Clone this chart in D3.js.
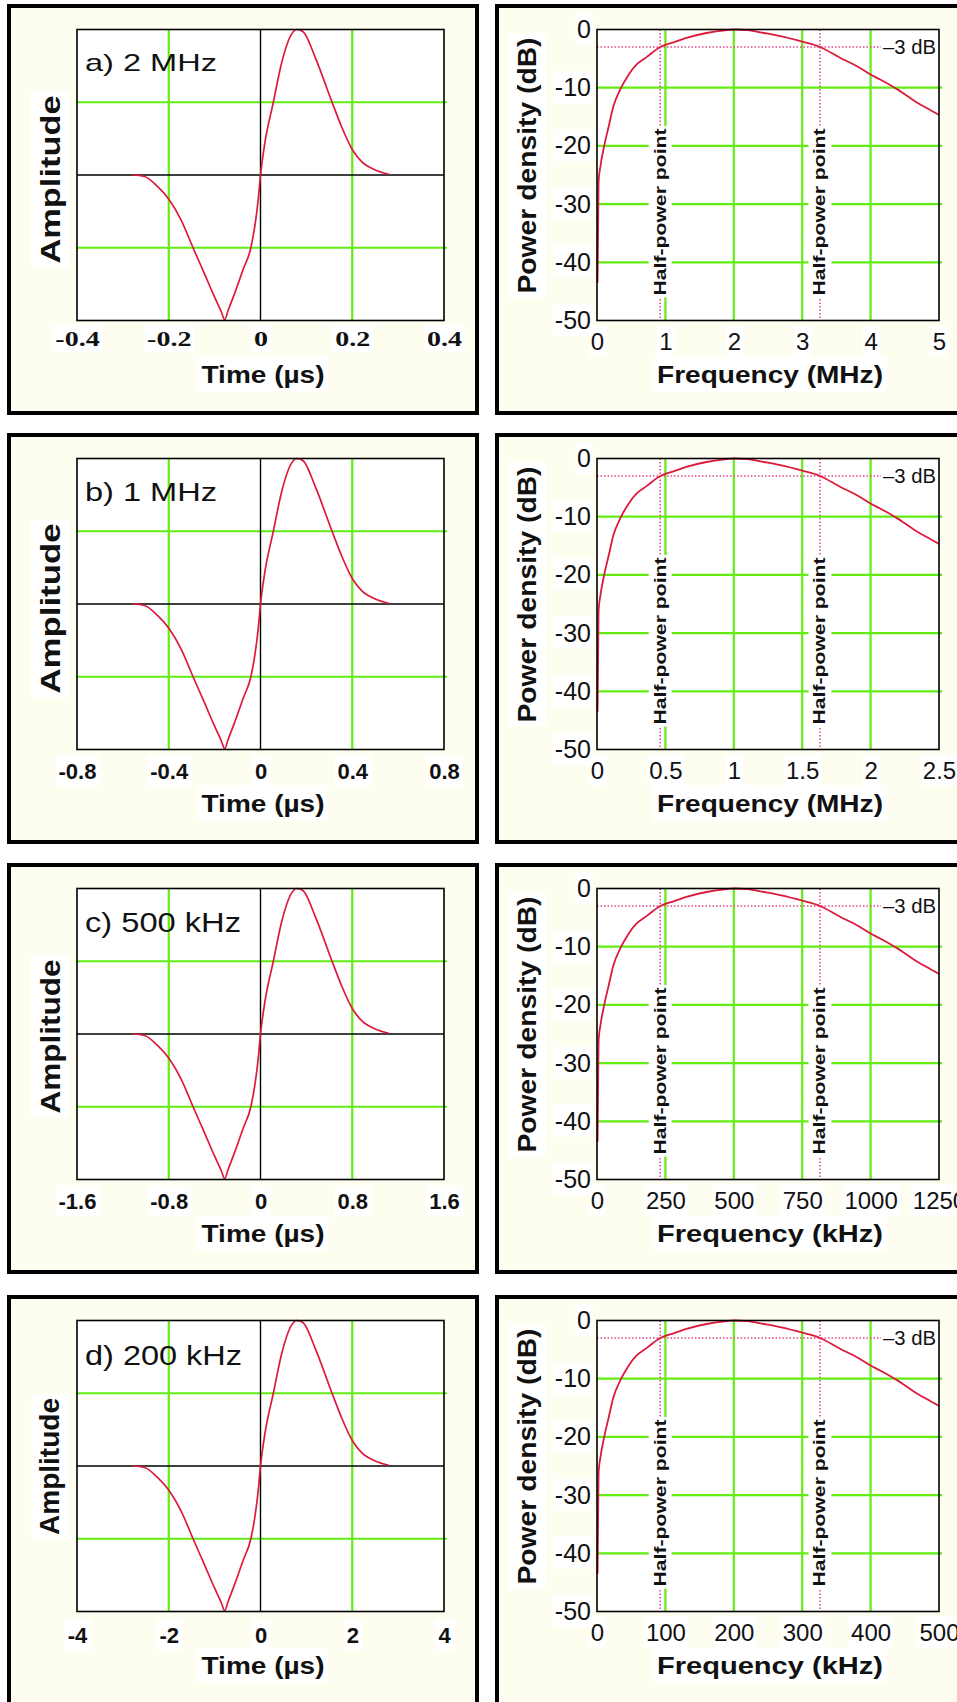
<!DOCTYPE html>
<html>
<head>
<meta charset="utf-8">
<script src="https://cdn.jsdelivr.net/npm/d3@7"></script>
<style>
  html, body { margin: 0; padding: 0; background: #ffffff; }
  svg { display: block; }
</style>
</head>
<body>
<svg id="fig" width="957" height="1702"></svg>
<script>
// ---------------- data ----------------
const panelTitles = ["a) 2 MHz", "b) 1 MHz", "c) 500 kHz", "d) 200 kHz"];
const centerFreq = [2, 1, 500, 200];            // in the unit of each frequency axis
const freqUnit = ["MHz", "MHz", "kHz", "kHz"];

// Transmitted pulse: time in periods of the centre frequency, normalised amplitude
const pulseCycles = [-0.558, -0.506, -0.448, -0.398, -0.346, -0.294, -0.244, -0.200, -0.171, -0.156,
                     -0.142, -0.112, -0.076, -0.042, -0.025, -0.010, 0, 0.019, 0.056, 0.092,
                     0.136, 0.158, 0.186, 0.238, 0.312, 0.354, 0.402, 0.442, 0.500, 0.560];
const pulseAmp    = [0, -0.01, -0.08, -0.17, -0.31, -0.50, -0.68, -0.84, -0.94, -0.995,
                     -0.935, -0.81, -0.65, -0.50, -0.355, -0.17, 0, 0.22, 0.50, 0.77,
                     0.97, 1.00, 0.985, 0.81, 0.50, 0.33, 0.17, 0.09, 0.035, 0.005];

// Power spectrum: frequency relative to the centre frequency, power density in dB
const specRatio = [0.004, 0.008, 0.012, 0.025, 0.049, 0.085, 0.12, 0.17, 0.23, 0.29,
                   0.365, 0.462, 0.56, 0.66, 0.80, 0.95, 1.00, 1.10, 1.22, 1.34,
                   1.50, 1.63, 1.78, 1.90, 1.99, 2.07, 2.19, 2.31, 2.41, 2.50];
const specDb    = [-43.5, -34, -26, -23.5, -20.4, -16.7, -13.2, -10.3, -7.8, -6.0,
                   -4.7, -3.0, -2.2, -1.4, -0.6, -0.1, 0, -0.1, -0.6, -1.15,
                   -2.1, -3.0, -4.9, -6.3, -7.6, -8.6, -10.2, -12.1, -13.5, -14.7];

const halfPowerRatio = [0.462, 1.63];
const halfPowerDb = -3;

const timeTicks = [[-0.4, -0.2, 0, 0.2, 0.4], [-0.8, -0.4, 0, 0.4, 0.8],
                   [-1.6, -0.8, 0, 0.8, 1.6], [-4, -2, 0, 2, 4]];
const timeTickLabels = [["-0.4", "-0.2", "0", "0.2", "0.4"], ["-0.8", "-0.4", "0", "0.4", "0.8"],
                        ["-1.6", "-0.8", "0", "0.8", "1.6"], ["-4", "-2", "0", "2", "4"]];
const freqTicks = [[0, 1, 2, 3, 4, 5], [0, 0.5, 1, 1.5, 2, 2.5],
                   [0, 250, 500, 750, 1000, 1250], [0, 100, 200, 300, 400, 500]];
const freqTickLabels = [["0", "1", "2", "3", "4", "5"], ["0", "0.5", "1", "1.5", "2", "2.5"],
                        ["0", "250", "500", "750", "1000", "1250"], ["0", "100", "200", "300", "400", "500"]];
const dbTicks = [0, -10, -20, -30, -40, -50];
const dbTickLabels = ["0", "-10", "-20", "-30", "-40", "-50"];
const ampGrid = [-0.5, 0.5];

// ---------------- layout & style ----------------
const rowTop = [4, 433, 863, 1295];
const frame = { w: 468, h: 407, stroke: 4, leftX: 9, rightX: 497 };
const plotOffY = 25.5, plotH = 291;
const leftPlot = [77, 444], rightPlot = [597, 939];
const COL = { cream: "#fefef0", green: "#62ec12", red: "#dc1a3c", pink: "#e2468e", black: "#000000" };
const SANS = "'Liberation Sans', Arial, Helvetica, sans-serif";
const SERIF = "'Liberation Serif', 'Times New Roman', serif";

const titleStyle = { size: [24, 26, 27, 28], len: [132, 132, 156, 157], base: [41, 42, 43, 44] };
const ampStyle = { size: [28, 28, 28, 27], len: [168, 170, 154, 137], cy: [150, 150, 148, 146] };
const tickBase = [25, 29, 29, 31];

const svg = d3.select("#fig");

function fit(sel, len) {
  sel.attr("textLength", len).attr("lengthAdjust", "spacingAndGlyphs");
}
// white box behind a text element (follows its transform)
function backdrop(node, pad) {
  const b = node.getBBox();
  const r = d3.select(node.parentNode).insert("rect", () => node)
    .attr("x", b.x - pad).attr("y", b.y - pad)
    .attr("width", b.width + 2 * pad).attr("height", b.height + 2 * pad)
    .attr("fill", "#ffffff");
  const t = node.getAttribute("transform");
  if (t) r.attr("transform", t);
}

const pulsePts = pulseCycles.map((c, k) => ({ c, a: pulseAmp[k] }));
const specPts = specRatio.map((r, k) => ({ r, db: specDb[k] }));

rowTop.forEach((top, i) => {
  const pt = top + plotOffY, pb = pt + plotH;
  const f0 = centerFreq[i];
  const f0MHz = freqUnit[i] === "kHz" ? f0 / 1000 : f0;

  // ---------- left: pulse in time ----------
  const gL = svg.append("g");
  gL.append("rect").attr("x", frame.leftX).attr("y", top + frame.stroke / 2)
    .attr("width", frame.w).attr("height", frame.h)
    .attr("fill", COL.cream).attr("stroke", COL.black).attr("stroke-width", frame.stroke);

  const tt = timeTicks[i];
  const x = d3.scaleLinear().domain([tt[0], tt[tt.length - 1]]).range(leftPlot);
  const y = d3.scaleLinear().domain([-1, 1]).range([pb, pt]);

  gL.append("rect").attr("x", leftPlot[0]).attr("y", pt)
    .attr("width", leftPlot[1] - leftPlot[0]).attr("height", plotH).attr("fill", "#ffffff");

  gL.selectAll(".vg").data(tt.filter((d, k) => k > 0 && k < tt.length - 1 && d !== 0)).join("line")
    .attr("x1", d => x(d)).attr("x2", d => x(d)).attr("y1", pt).attr("y2", pb)
    .attr("stroke", COL.green).attr("stroke-width", 2.2);
  gL.selectAll(".hg").data(ampGrid).join("line")
    .attr("x1", leftPlot[0]).attr("x2", leftPlot[1] + 3).attr("y1", d => y(d)).attr("y2", d => y(d))
    .attr("stroke", COL.green).attr("stroke-width", 2.2);
  gL.append("line").attr("x1", x(0)).attr("x2", x(0)).attr("y1", pt).attr("y2", pb)
    .attr("stroke", COL.black).attr("stroke-width", 1.4);
  gL.append("line").attr("x1", leftPlot[0]).attr("x2", leftPlot[1]).attr("y1", y(0)).attr("y2", y(0))
    .attr("stroke", COL.black).attr("stroke-width", 1.4);

  const pulseLine = d3.line().x(d => x(d.c / f0MHz)).y(d => y(d.a)).curve(d3.curveMonotoneX);
  gL.append("path").attr("d", pulseLine(pulsePts))
    .attr("fill", "none").attr("stroke", COL.red).attr("stroke-width", 1.7);

  gL.append("rect").attr("x", leftPlot[0]).attr("y", pt)
    .attr("width", leftPlot[1] - leftPlot[0]).attr("height", plotH)
    .attr("fill", "none").attr("stroke", COL.black).attr("stroke-width", 1.6);

  const ttl = gL.append("text").attr("x", 85).attr("y", pt + titleStyle.base[i])
    .attr("font-family", SANS).attr("font-size", titleStyle.size[i]).attr("fill", "#111")
    .text(panelTitles[i]);
  fit(ttl, titleStyle.len[i]);

  const axL = gL.append("g").attr("transform", `translate(0,${pb})`)
    .call(d3.axisBottom(x).tickValues(tt).tickSize(0).tickFormat((d, k) => timeTickLabels[i][k]));
  axL.select(".domain").remove();
  axL.selectAll("text")
    .attr("y", tickBase[i]).attr("dy", null)
    .attr("fill", "#111")
    .attr("font-weight", "bold")
    .attr("font-family", i === 0 ? SERIF : SANS)
    .attr("font-size", i === 0 ? 20 : 22)
    .each(function () {
      if (i === 0) fit(d3.select(this), this.getComputedTextLength() * 1.4);
      backdrop(this, 3);
    });

  const tl = gL.append("text").attr("x", 263).attr("y", pb + 62)
    .attr("text-anchor", "middle").attr("font-family", SANS).attr("font-weight", "bold")
    .attr("font-size", 24).attr("fill", "#111").text("Time (µs)");
  fit(tl, 123);
  backdrop(tl.node(), 4);

  const al = gL.append("text")
    .attr("transform", `translate(50,${pt + ampStyle.cy[i]}) rotate(-90)`)
    .attr("text-anchor", "middle").attr("dominant-baseline", "central")
    .attr("font-family", SANS).attr("font-weight", "bold")
    .attr("font-size", ampStyle.size[i]).attr("fill", "#111").text("Amplitude");
  fit(al, ampStyle.len[i]);
  backdrop(al.node(), 4);

  // ---------- right: power spectrum ----------
  const gR = svg.append("g");
  gR.append("rect").attr("x", frame.rightX).attr("y", top + frame.stroke / 2)
    .attr("width", frame.w).attr("height", frame.h)
    .attr("fill", COL.cream).attr("stroke", COL.black).attr("stroke-width", frame.stroke);

  const ft = freqTicks[i];
  const xf = d3.scaleLinear().domain([0, ft[ft.length - 1]]).range(rightPlot);
  const yd = d3.scaleLinear().domain([-50, 0]).range([pb, pt]);

  gR.append("rect").attr("x", rightPlot[0]).attr("y", pt)
    .attr("width", rightPlot[1] - rightPlot[0]).attr("height", plotH).attr("fill", "#ffffff");

  gR.selectAll(".vg").data(ft.slice(1, -1)).join("line")
    .attr("x1", d => xf(d)).attr("x2", d => xf(d)).attr("y1", pt).attr("y2", pb)
    .attr("stroke", COL.green).attr("stroke-width", 2.2);
  gR.selectAll(".hg").data(dbTicks.slice(1, -1)).join("line")
    .attr("x1", rightPlot[0]).attr("x2", rightPlot[1] + 3).attr("y1", d => yd(d)).attr("y2", d => yd(d))
    .attr("stroke", COL.green).attr("stroke-width", 2.2);

  // half-power markers
  gR.selectAll(".hp").data(halfPowerRatio).join("line")
    .attr("x1", d => xf(d * f0)).attr("x2", d => xf(d * f0)).attr("y1", pt).attr("y2", pb)
    .attr("stroke", COL.pink).attr("stroke-width", 1.5).attr("stroke-dasharray", "1.5,2");
  gR.append("line").attr("x1", rightPlot[0]).attr("x2", 881)
    .attr("y1", yd(halfPowerDb)).attr("y2", yd(halfPowerDb))
    .attr("stroke", COL.pink).attr("stroke-width", 1.5).attr("stroke-dasharray", "1.5,2");

  halfPowerRatio.forEach(r => {
    const ht = gR.append("text")
      .attr("transform", `translate(${xf(r * f0)},${pt + 266}) rotate(-90)`)
      .attr("text-anchor", "start").attr("dominant-baseline", "central")
      .attr("font-family", SANS).attr("font-weight", "bold").attr("font-size", 17)
      .attr("fill", "#111").text("Half-power point");
    fit(ht, 167);
    backdrop(ht.node(), 2);
  });

  const db3 = gR.append("text").attr("x", 883).attr("y", yd(halfPowerDb) + 7)
    .attr("font-family", SANS).attr("font-size", 20).attr("fill", "#111").text("\u20133 dB");
  fit(db3, 53);
  backdrop(db3.node(), 1);

  const specLine = d3.line().x(d => xf(d.r * f0)).y(d => yd(d.db)).curve(d3.curveMonotoneX);
  gR.append("path").attr("d", specLine(specPts))
    .attr("fill", "none").attr("stroke", COL.red).attr("stroke-width", 1.8);

  gR.append("rect").attr("x", rightPlot[0]).attr("y", pt)
    .attr("width", rightPlot[1] - rightPlot[0]).attr("height", plotH)
    .attr("fill", "none").attr("stroke", COL.black).attr("stroke-width", 1.6);

  const axB = gR.append("g").attr("transform", `translate(0,${pb})`)
    .call(d3.axisBottom(xf).tickValues(ft).tickSize(0).tickFormat((d, k) => freqTickLabels[i][k]));
  axB.select(".domain").remove();
  axB.selectAll("text").attr("y", 29).attr("dy", null)
    .attr("font-family", SANS).attr("font-size", 24).attr("fill", "#111")
    .each(function () { backdrop(this, 2); });

  const axY = gR.append("g").attr("transform", `translate(${rightPlot[0]},0)`)
    .call(d3.axisLeft(yd).tickValues(dbTicks).tickSize(0).tickPadding(6)
      .tickFormat((d, k) => dbTickLabels[k]));
  axY.select(".domain").remove();
  axY.selectAll("text").attr("font-family", SANS).attr("font-size", 25).attr("fill", "#111")
    .each(function () { backdrop(this, 2); });

  const fl = gR.append("text").attr("x", 770).attr("y", pb + 62)
    .attr("text-anchor", "middle").attr("font-family", SANS).attr("font-weight", "bold")
    .attr("font-size", 24).attr("fill", "#111").text(`Frequency (${freqUnit[i]})`);
  fit(fl, 226);
  backdrop(fl.node(), 4);

  const pl = gR.append("text")
    .attr("transform", `translate(527,${pt + 136}) rotate(-90)`)
    .attr("text-anchor", "middle").attr("dominant-baseline", "central")
    .attr("font-family", SANS).attr("font-weight", "bold")
    .attr("font-size", 26).attr("fill", "#111").text("Power density (dB)");
  fit(pl, 256);
  backdrop(pl.node(), 4);
});
</script>
</body>
</html>
